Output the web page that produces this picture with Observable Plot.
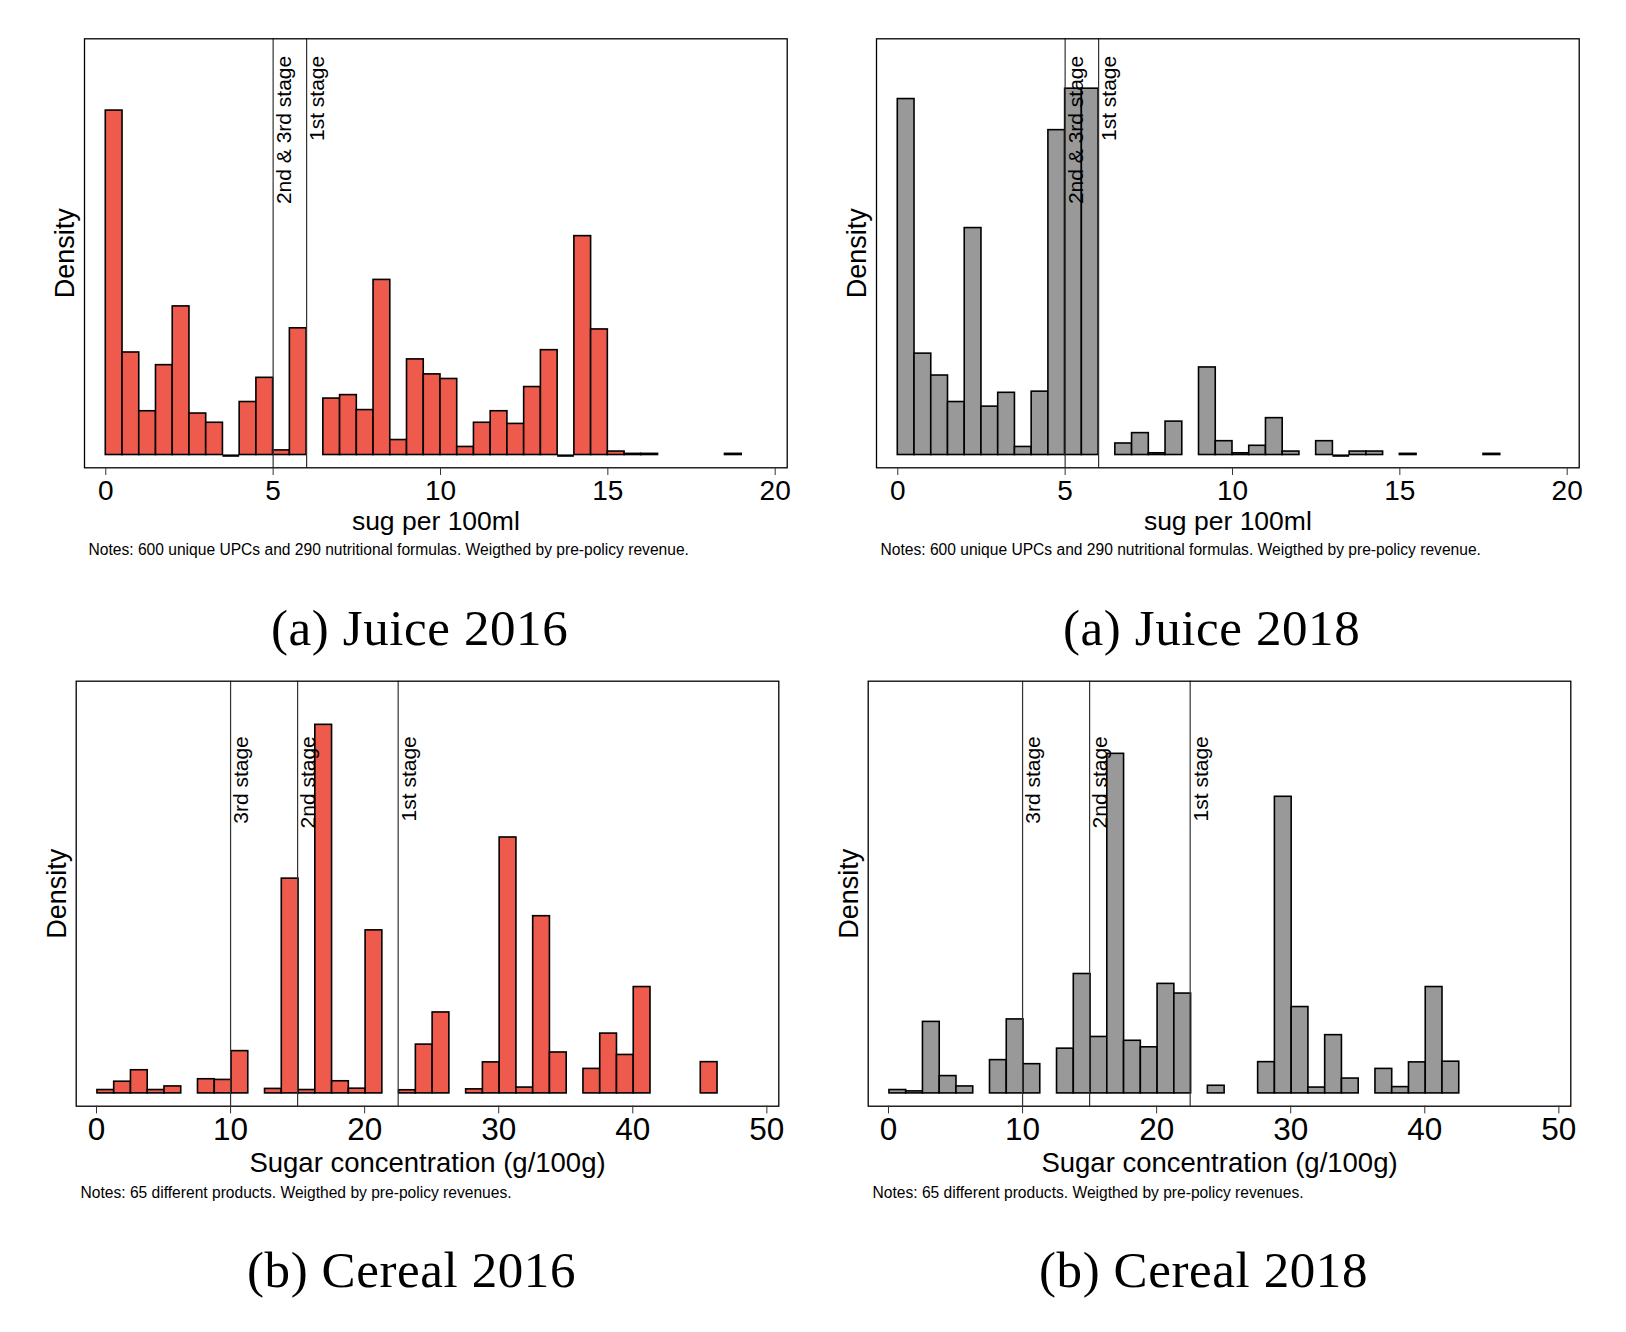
<!DOCTYPE html>
<html>
<head>
<meta charset="utf-8">
<script src="https://cdn.jsdelivr.net/npm/d3@7"></script>
<script src="https://cdn.jsdelivr.net/npm/@observablehq/plot@0.6"></script>
<style>
html, body { margin: 0; padding: 0; background: #fff; }
#page { position: relative; width: 1626px; height: 1332px; background: #fff; overflow: hidden; }
</style>
</head>
<body>
<div id="page"></div>
<script>
// ---------------- DATA ----------------
// Juice: histogram bins of width 0.5 (lower edges) and densities
const juiceBinWidth = 0.5;
const juice2016Bins = [0,0.5,1,1.5,2,2.5,3,3.5,4,4.5,5,5.5,6.5,7,7.5,8,8.5,9,9.5,10,10.5,11,11.5,12,12.5,13,13.5,14,14.5,15,15.5,16,18.5];
const juice2016Density = [0.299,0.089,0.038,0.078,0.129,0.036,0.028,0,0.046,0.067,0.004,0.110,0.049,0.052,0.039,0.152,0.013,0.083,0.070,0.066,0.007,0.028,0.038,0.027,0.059,0.091,0,0.190,0.109,0.003,0.001,0.001,0.001];
const juice2018Bins = [0,0.5,1,1.5,2,2.5,3,3.5,4,4.5,5,5.5,6.5,7,7.5,8,9,9.5,10,10.5,11,11.5,12.5,13,13.5,14,15,17.5];
const juice2018Density = [0.309,0.088,0.069,0.046,0.197,0.042,0.054,0.007,0.055,0.282,0.318,0.318,0.010,0.019,0.0015,0.029,0.076,0.012,0.0015,0.008,0.032,0.003,0.012,0,0.003,0.003,0.001,0.001];

// Cereal: histogram bins of width 1.25 (lower edges) and densities
const cerealBinWidth = 1.25;
const cereal2016Bins = [0.07,1.32,2.57,3.82,5.07,7.57,8.82,10.07,12.57,13.82,15.07,16.32,17.57,18.82,20.07,22.57,23.82,25.07,27.57,28.82,30.07,31.32,32.57,33.82,36.32,37.57,38.82,40.07,45.07];
const cereal2016Density = [0.0015,0.0052,0.0103,0.0015,0.0031,0.0063,0.0060,0.0188,0.0020,0.0955,0.0015,0.1639,0.0054,0.0021,0.0725,0.0014,0.0217,0.0360,0.0018,0.0138,0.1138,0.0026,0.0788,0.0182,0.0109,0.0266,0.0171,0.0473,0.0139];
const cereal2018Bins = [0.07,1.32,2.57,3.82,5.07,7.57,8.82,10.07,12.57,13.82,15.07,16.32,17.57,18.82,20.07,21.32,23.82,27.57,28.82,30.07,31.32,32.57,33.82,36.32,37.57,38.82,40.07,41.32];
const cereal2018Density = [0.0015,0.0009,0.0318,0.0077,0.0031,0.0148,0.0329,0.0130,0.0199,0.0531,0.0251,0.1510,0.0234,0.0205,0.0487,0.0444,0.0034,0.0139,0.1319,0.0384,0.0026,0.0259,0.0066,0.0109,0.0028,0.0138,0.0473,0.0141];

// Policy thresholds
const juiceStageValues = [5, 6];
const juiceStageLabels = ["2nd & 3rd stage", "1st stage"];
const cerealStageValues = [10, 15, 22.5];
const cerealStageLabels = ["3rd stage", "2nd stage", "1st stage"];

// Tick labels
const juiceTicks = [0, 5, 10, 15, 20];
const cerealTicks = [0, 10, 20, 30, 40, 50];

// Texts
const juiceXLabel = "sug per 100ml";
const cerealXLabel = "Sugar concentration (g/100g)";
const yLabel = "Density";
const juiceNotes = "Notes: 600 unique UPCs and 290 nutritional formulas. Weigthed by pre-policy revenue.";
const cerealNotes = "Notes: 65 different products. Weigthed by pre-policy revenues.";
const captions = ["(a) Juice 2016", "(a) Juice 2018", "(b) Cereal 2016", "(b) Cereal 2018"];

// ---------------- LAYOUT ----------------
const RED = "#EE5A4C";
const GRAY = "#999999";
const SANS = "'Liberation Sans', Arial, Helvetica, sans-serif";
const SERIF = "'Liberation Serif', 'Times New Roman', serif";

const juiceLayout = {
  binWidth: juiceBinWidth, xDomain: [-0.636, 20.359], yDomain: [-0.0111, 0.3613],
  ticks: juiceTicks, tickFont: 28, tickPadding: 5, xLabel: juiceXLabel, titleFont: 26.5, titleDy: 61.7,
  notes: juiceNotes, notesDx: 4, notesDy: 86.7, stageValues: juiceStageValues, stageLabels: juiceStageLabels,
  stageDy: 17, stageDx: 2.5, captionDx: -16.2, captionDy: 176.7,
  h: 666, marginLeft: 84, marginTop: 38.3, marginBottom: 198.7
};
const cerealLayout = {
  binWidth: cerealBinWidth, xDomain: [-1.514, 50.89], yDomain: [-0.00569, 0.1833],
  ticks: cerealTicks, tickFont: 31.5, tickPadding: 3.9, xLabel: cerealXLabel, titleFont: 27.5, titleDy: 66,
  notes: cerealNotes, notesDx: 4.3, notesDy: 91.6, stageValues: cerealStageValues, stageLabels: cerealStageLabels,
  stageDy: 55, stageDx: 2.5, captionDx: -16, captionDy: 181,
  h: 666, marginLeft: 75.7, marginTop: 14.7, marginBottom: 226.3
};

const panels = [
  {...juiceLayout, bins: juice2016Bins, density: juice2016Density, fill: RED, caption: captions[0], left: 0, top: 0, w: 792, marginRight: 5.3},
  {...juiceLayout, bins: juice2018Bins, density: juice2018Density, fill: GRAY, caption: captions[1], left: 792, top: 0, w: 834, marginRight: 47.3},
  {...cerealLayout, bins: cereal2016Bins, density: cereal2016Density, fill: RED, caption: captions[2], left: 0, top: 666, w: 792, marginRight: 13.7},
  {...cerealLayout, bins: cereal2018Bins, density: cereal2018Density, fill: GRAY, caption: captions[3], left: 792, top: 666, w: 834, marginRight: 55.7}
];

function drawPanel(cfg) {
  const bars = cfg.bins.map((x, i) => ({lo: x, hi: x + cfg.binWidth, density: cfg.density[i]}));
  const emptyBars = bars.filter((d) => d.density === 0);
  const stages = cfg.stageValues.map((v, i) => ({value: v, label: cfg.stageLabels[i]}));
  const svg = Plot.plot({
    width: cfg.w,
    height: cfg.h,
    marginLeft: cfg.marginLeft,
    marginRight: cfg.marginRight,
    marginTop: cfg.marginTop,
    marginBottom: cfg.marginBottom,
    style: {background: "transparent", overflow: "visible", fontFamily: SANS, color: "black"},
    x: {domain: cfg.xDomain},
    y: {domain: cfg.yDomain, axis: null},
    marks: [
      Plot.rect(bars, {x1: "lo", x2: "hi", y1: 0, y2: "density", fill: cfg.fill, stroke: "black", strokeWidth: 1.6}),
      // zero-height bins are drawn by Stata as a flat outline on the baseline
      Plot.ruleY(emptyBars, {x1: "lo", x2: "hi", y: "density", stroke: "black", strokeWidth: 2.4, dy: 0.6}),
      Plot.ruleX(stages, {x: "value", stroke: "#333", strokeWidth: 1.2}),
      Plot.text(stages, {x: "value", text: "label", frameAnchor: "top", rotate: -90, textAnchor: "end", lineAnchor: "top",
        dx: cfg.stageDx, dy: cfg.stageDy, fontSize: 21, fill: "black"}),
      Plot.frame({stroke: "black", strokeWidth: 1.3}),
      Plot.axisX({ticks: cfg.ticks, tickSize: 7.7, tickPadding: cfg.tickPadding, fontSize: cfg.tickFont,
        label: null, stroke: "#333", tickFormat: (d) => String(d)}),
      Plot.text([cfg.xLabel], {text: (d) => d, frameAnchor: "bottom", lineAnchor: "bottom", dy: cfg.titleDy, fontSize: cfg.titleFont, fill: "black"}),
      Plot.text([yLabel], {text: (d) => d, frameAnchor: "left", rotate: -90, textAnchor: "middle", lineAnchor: "bottom", dx: -10.5, fontSize: 27, fill: "black"}),
      Plot.text([cfg.notes], {text: (d) => d, frameAnchor: "bottom-left", textAnchor: "start", lineAnchor: "bottom",
        dx: cfg.notesDx, dy: cfg.notesDy, fontSize: 15.6, fill: "black"}),
      Plot.text([cfg.caption], {text: (d) => d, frameAnchor: "bottom", lineAnchor: "bottom", dx: cfg.captionDx, dy: cfg.captionDy,
        fontSize: 51, fontFamily: SERIF, fill: "black"})
    ]
  });
  svg.style.position = "absolute";
  svg.style.left = cfg.left + "px";
  svg.style.top = cfg.top + "px";
  svg.style.maxWidth = "none";
  svg.querySelectorAll("text").forEach((t) => {
    if (t.textContent === cfg.caption) t.setAttribute("letter-spacing", "0.6");
  });
  document.getElementById("page").appendChild(svg);
}

panels.forEach(drawPanel);
</script>
</body>
</html>
